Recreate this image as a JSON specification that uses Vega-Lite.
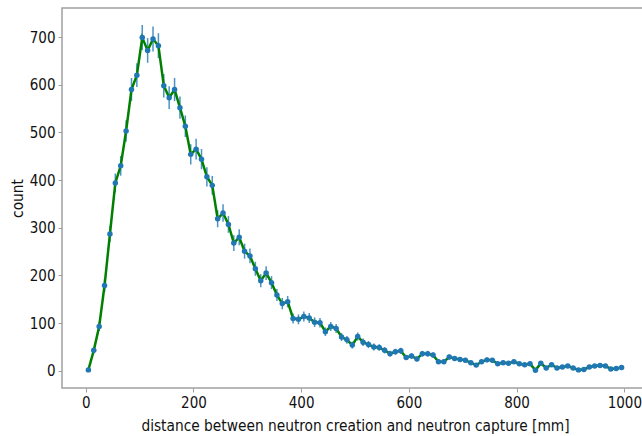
{
  "$schema": "https://vega.github.io/schema/vega-lite/v6.json",
  "width": 586,
  "height": 380,
  "autosize": {"type": "none"},
  "padding": {"left": 62, "top": 8, "right": 0, "bottom": 48},
  "background": "white",
  "config": {
    "view": {"stroke": "#a0a0a0", "strokeWidth": 1.5},
    "axis": {
      "domain": false,
      "grid": false,
      "tickColor": "#a0a0a0",
      "tickSize": 4,
      "labelFont": "DejaVu Sans Condensed",
      "labelFontSize": 15,
      "labelColor": "#111",
      "titleFont": "DejaVu Sans Condensed",
      "titleFontSize": 15.3,
      "titleFontWeight": "normal",
      "titleColor": "#111"
    }
  },
  "data": {
    "values": [
      {"x": 5, "count": 2, "err": 1.4}, {"x": 15, "count": 43, "err": 6.6}, {"x": 25, "count": 93, "err": 9.6},
      {"x": 35, "count": 179, "err": 13.4}, {"x": 45, "count": 287, "err": 16.9}, {"x": 55, "count": 394, "err": 19.8},
      {"x": 65, "count": 430, "err": 20.7}, {"x": 75, "count": 503, "err": 22.4}, {"x": 85, "count": 590, "err": 24.3},
      {"x": 95, "count": 620, "err": 24.9}, {"x": 105, "count": 699, "err": 26.4}, {"x": 115, "count": 672, "err": 25.9},
      {"x": 125, "count": 696, "err": 26.4}, {"x": 135, "count": 682, "err": 26.1}, {"x": 145, "count": 598, "err": 24.5},
      {"x": 155, "count": 573, "err": 23.9}, {"x": 165, "count": 590, "err": 24.3}, {"x": 175, "count": 552, "err": 23.5},
      {"x": 185, "count": 513, "err": 22.6}, {"x": 195, "count": 454, "err": 21.3}, {"x": 205, "count": 465, "err": 21.6},
      {"x": 215, "count": 444, "err": 21.1}, {"x": 225, "count": 407, "err": 20.2}, {"x": 235, "count": 389, "err": 19.7},
      {"x": 245, "count": 319, "err": 17.9}, {"x": 255, "count": 331, "err": 18.2}, {"x": 265, "count": 307, "err": 17.5},
      {"x": 275, "count": 268, "err": 16.4}, {"x": 285, "count": 280, "err": 16.7}, {"x": 295, "count": 251, "err": 15.8},
      {"x": 305, "count": 241, "err": 15.5}, {"x": 315, "count": 214, "err": 14.6}, {"x": 325, "count": 189, "err": 13.7},
      {"x": 335, "count": 205, "err": 14.3}, {"x": 345, "count": 185, "err": 13.6}, {"x": 355, "count": 159, "err": 12.6},
      {"x": 365, "count": 141, "err": 11.9}, {"x": 375, "count": 145, "err": 12.0}, {"x": 385, "count": 110, "err": 10.5},
      {"x": 395, "count": 108, "err": 10.4}, {"x": 405, "count": 114, "err": 10.7}, {"x": 415, "count": 111, "err": 10.5},
      {"x": 425, "count": 102, "err": 10.1}, {"x": 435, "count": 101, "err": 10.0}, {"x": 445, "count": 82, "err": 9.1},
      {"x": 455, "count": 93, "err": 9.6}, {"x": 465, "count": 89, "err": 9.4}, {"x": 475, "count": 71, "err": 8.4},
      {"x": 485, "count": 65, "err": 8.1}, {"x": 495, "count": 54, "err": 7.3}, {"x": 505, "count": 72, "err": 8.5},
      {"x": 515, "count": 60, "err": 7.7}, {"x": 525, "count": 55, "err": 7.4}, {"x": 535, "count": 50, "err": 7.1},
      {"x": 545, "count": 49, "err": 7.0}, {"x": 555, "count": 43, "err": 6.6}, {"x": 565, "count": 36, "err": 6.0},
      {"x": 575, "count": 40, "err": 6.3}, {"x": 585, "count": 42, "err": 6.5}, {"x": 595, "count": 28, "err": 5.3},
      {"x": 605, "count": 31, "err": 5.6}, {"x": 615, "count": 25, "err": 5.0}, {"x": 625, "count": 36, "err": 6.0},
      {"x": 635, "count": 36, "err": 6.0}, {"x": 645, "count": 33, "err": 5.7}, {"x": 655, "count": 19, "err": 4.4},
      {"x": 665, "count": 19, "err": 4.4}, {"x": 675, "count": 29, "err": 5.4}, {"x": 685, "count": 26, "err": 5.1},
      {"x": 695, "count": 24, "err": 4.9}, {"x": 705, "count": 22, "err": 4.7}, {"x": 715, "count": 17, "err": 4.1},
      {"x": 725, "count": 12, "err": 3.5}, {"x": 735, "count": 19, "err": 4.4}, {"x": 745, "count": 23, "err": 4.8},
      {"x": 755, "count": 22, "err": 4.7}, {"x": 765, "count": 15, "err": 3.9}, {"x": 775, "count": 17, "err": 4.1},
      {"x": 785, "count": 16, "err": 4.0}, {"x": 795, "count": 19, "err": 4.4}, {"x": 805, "count": 15, "err": 3.9},
      {"x": 815, "count": 13, "err": 3.6}, {"x": 825, "count": 15, "err": 3.9}, {"x": 835, "count": 1, "err": 1.0},
      {"x": 845, "count": 16, "err": 4.0}, {"x": 855, "count": 6, "err": 2.4}, {"x": 865, "count": 13, "err": 3.6},
      {"x": 875, "count": 6, "err": 2.4}, {"x": 885, "count": 8, "err": 2.8}, {"x": 895, "count": 10, "err": 3.2},
      {"x": 905, "count": 6, "err": 2.4}, {"x": 915, "count": 2, "err": 1.4}, {"x": 925, "count": 3, "err": 1.7},
      {"x": 935, "count": 8, "err": 2.8}, {"x": 945, "count": 10, "err": 3.2}, {"x": 955, "count": 11, "err": 3.3},
      {"x": 965, "count": 10, "err": 3.2}, {"x": 975, "count": 4, "err": 2.0}, {"x": 985, "count": 5, "err": 2.2},
      {"x": 995, "count": 7, "err": 2.6}
    ]
  },
  "encoding": {
    "x": {
      "field": "x", "type": "quantitative",
      "scale": {"domain": [-44, 1044], "nice": false, "zero": false},
      "axis": {"values": [0, 200, 400, 600, 800, 1000], "format": "d", "title": "distance between neutron creation and neutron capture [mm]", "labelPadding": 3, "titlePadding": 8}
    },
    "y": {
      "field": "count", "type": "quantitative",
      "scale": {"domain": [-36, 761], "nice": false, "zero": false},
      "axis": {"values": [0, 100, 200, 300, 400, 500, 600, 700], "format": "d", "title": "count", "labelPadding": 3, "titlePadding": 4}
    }
  },
  "layer": [
    {
      "mark": {"type": "errorbar", "color": "#1f77b4", "thickness": 1.5, "opacity": 0.8},
      "encoding": {"yError": {"field": "err"}}
    },
    {
      "mark": {"type": "line", "color": "#008000", "strokeWidth": 2.5},
      "encoding": {}
    },
    {
      "mark": {"type": "point", "filled": true, "color": "#1f77b4", "size": 30, "opacity": 1},
      "encoding": {}
    }
  ]
}
